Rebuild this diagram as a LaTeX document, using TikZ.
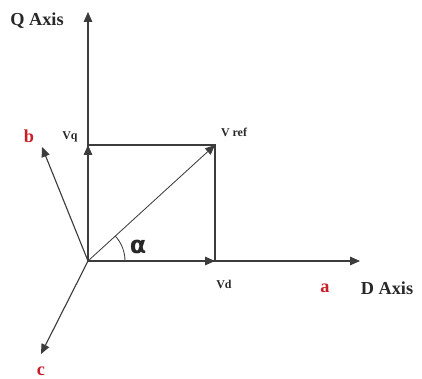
\documentclass[tikz,border=0pt]{standalone}
\usepackage{fontspec}
\setmainfont{Liberation Serif}
\newfontfamily\alphafont{DejaVu Sans}
\usepackage{xcolor}
\usetikzlibrary{arrows.meta,positioning,calc}
\definecolor{xline}{RGB}{60,60,60}
\definecolor{xred}{RGB}{200,30,40}
\definecolor{xtext}{RGB}{40,40,40}
\begin{document}
\begin{tikzpicture}[x=0.025cm, y=-0.025cm,
  axis/.style={-{Triangle[length=7pt, width=6pt]}, color=xline, line width=0.8pt},
  proj/.style={color=xline, line width=0.8pt},
  lbl/.style={font=\bfseries\fontsize{13}{14}\selectfont, text=xtext, inner sep=0pt},
  small/.style={font=\bfseries\fontsize{8.5}{10}\selectfont, text=xtext, inner sep=0pt},
  phase/.style={font=\bfseries\fontsize{13}{14}\selectfont, text=xred, inner sep=0pt}
]
  \useasboundingbox (0,0) rectangle (422,379);

  \coordinate (o)    at (88,261);
  \coordinate (qtip) at (88,12);
  \coordinate (dtip) at (360,261);
  \coordinate (vq)   at (88,145);
  \coordinate (vref) at (215,145);
  \coordinate (vd)   at (215,261);
  \coordinate (btip) at (42,147);
  \coordinate (ctip) at (41,354);

  % axes and phase vectors
  \foreach \to in {qtip, dtip, btip, ctip}{
    \draw[axis] (o) -- (\to);
  }

  % dq components
  \draw[axis] (o) -- (vq);
  \draw[axis] (o) -- (vd);
  \draw[axis, line width=0.6pt] (o) -- (vref);
  \draw[proj] (vq) -- (vref) -- (vd);

  % angle
  \draw[proj, line width=0.6pt] ($(o)+(37,0)$) arc[start angle=0, end angle=-42.4, radius=37];

  \node[lbl]   (qlabel) at (37,21)  {Q Axis};
  \node[lbl]   (dlabel) at (387,288) {D Axis};
  \node[small] (vqlabel) at (70,137) {Vq};
  \node[small] (vreflabel) at (234,132) {V ref};
  \node[small] (vdlabel) at (224,284) {Vd};
  \node[phase] (alabel) at (325,288) {a};
  \node[phase] (blabel) at (29,136) {b};
  \node[phase] (clabel) at (41,371) {c};
  \node[font=\alphafont\bfseries\fontsize{17}{18}\selectfont, text=xtext, inner sep=0pt, anchor=base] (alpha) at (138,254) {α};
\end{tikzpicture}
\end{document}
